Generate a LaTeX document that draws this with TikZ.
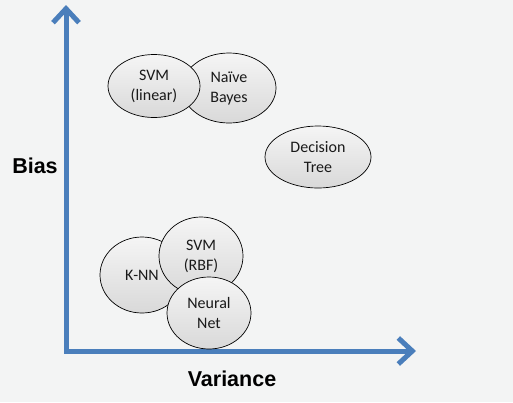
\documentclass[tikz,border=0pt]{standalone}
\usepackage{fontspec}
\setmainfont{Carlito}
\newfontfamily\axisfont{Liberation Sans}
\usetikzlibrary{shapes.geometric,arrows.meta}
\definecolor{bgc}{RGB}{243,244,244}
\definecolor{axisblue}{RGB}{74,126,187}
\tikzset{
  algo/.style={ellipse, draw=black, line width=0.7pt, inner sep=0pt,
    top color=gray!8, bottom color=gray!30, align=center,
    font=\fontsize{16}{20}\selectfont, text=black!90},
  axislabel/.style={font=\axisfont\bfseries\fontsize{21.5}{24}\selectfont, text=black},
  axisline/.style={draw=axisblue, line width=5pt, line join=miter,
    {Straight Barb[length=14pt,width=26pt,line width=5pt]}-{Straight Barb[length=14pt,width=26pt,line width=5pt]}}
}
\begin{document}
\begin{tikzpicture}[x=1pt,y=-1pt]
\fill[bgc] (0,0) rectangle (513,402);
\useasboundingbox (0,0) rectangle (513,402);
\coordinate (ytip) at (66,5);
\coordinate (origin) at (66,351);
\coordinate (xtip) at (416,351);
\draw[axisline] (ytip) -- (origin) -- (xtip);
\node[axislabel] (bias) at (35,166) {Bias};
\node[axislabel] (var) at (232,379) {Variance};
\node[algo, minimum width=94pt, minimum height=70pt] (nb) at (229,88) {Naïve\\Bayes};
\node[algo, minimum width=92pt, minimum height=63pt] (svml) at (154,86) {SVM\\(linear)};
\node[algo, minimum width=106pt, minimum height=62pt] (dt) at (318,157) {Decision\\Tree};
\node[algo, minimum width=84pt, minimum height=76pt] (knn) at (142,275) {K-NN};
\node[algo, minimum width=84pt, minimum height=78pt] (rbf) at (201,256) {SVM\\(RBF)};
\node[algo, minimum width=84pt, minimum height=72pt] (nn) at (209,313) {Neural\\Net};
\end{tikzpicture}
\end{document}
